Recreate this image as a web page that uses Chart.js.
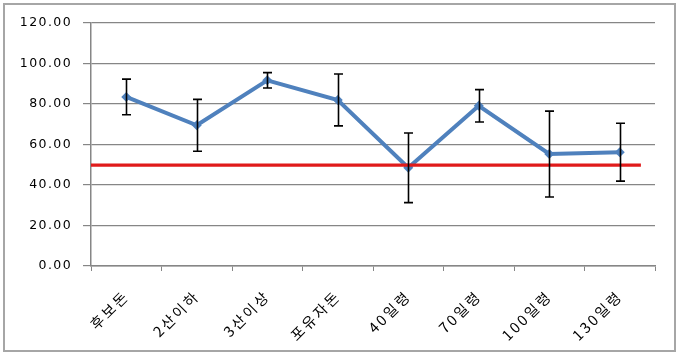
<!DOCTYPE html>
<html>
<head>
<meta charset="utf-8">
<script src="https://cdn.jsdelivr.net/npm/chart.js@4/dist/chart.umd.min.js"></script>
<style>
html,body{margin:0;padding:0;background:#fff;}
#wrap{width:680px;height:356px;position:relative;}
</style>
</head>
<body>
<div id="wrap"><canvas id="c" width="680" height="356"></canvas></div>
<script>
const categories = ['후보돈', '2산이하', '3산이상', '포유자돈', '40일령', '70일령', '100일령', '130일령'];
const meanValues = [83.5, 69.5, 91.7, 82.0, 48.5, 79.1, 55.3, 56.2];
const sdValues = [8.8, 12.8, 3.8, 12.8, 17.2, 8.0, 21.2, 14.3];
const referenceLevel = 49.8;
const referenceSpan = [-0.5, 7.3];
const yTickMin = 0, yTickMax = 120, yTickStep = 20;

const errorBars = {
  id: 'errorBars',
  afterDatasetsDraw(chart) {
    const ctx = chart.ctx, x = chart.scales.x, y = chart.scales.y;
    ctx.save();
    ctx.strokeStyle = '#000';
    ctx.lineWidth = 1.6;
    meanValues.forEach((m, i) => {
      const px = Math.round(x.getPixelForValue(i)) + 0.5;
      const top = y.getPixelForValue(m + sdValues[i]);
      const bot = y.getPixelForValue(m - sdValues[i]);
      ctx.beginPath();
      ctx.moveTo(px, top); ctx.lineTo(px, bot);
      ctx.moveTo(px - 4.5, top); ctx.lineTo(px + 4.5, top);
      ctx.moveTo(px - 4.5, bot); ctx.lineTo(px + 4.5, bot);
      ctx.stroke();
    });
    ctx.restore();
  }
};

// widen label spacing per axis
const spacing = {
  id: 'spacing',
  afterLayout(chart) {
    const cfg = {x: '2.5px', y: '1.4px'};
    Object.keys(cfg).forEach(id => {
      const s = chart.scales[id];
      if (!s || s._spacingPatched) return;
      const orig = s.drawLabels;
      s.drawLabels = function (area) {
        const ctx = this.ctx;
        ctx.save();
        ctx.letterSpacing = cfg[id];
        orig.call(this, area);
        ctx.restore();
      };
      s._spacingPatched = true;
    });
  }
};

const frame = {
  id: 'frame',
  afterDraw(chart) {
    const ctx = chart.ctx;
    ctx.save();
    ctx.strokeStyle = '#a6a6a6';
    ctx.lineWidth = 2;
    ctx.strokeRect(4, 4, 671, 347);
    ctx.restore();
  }
};

new Chart(document.getElementById('c'), {
  type: 'line',
  data: {
    labels: categories,
    datasets: [
      {
        data: referenceSpan.map(v => ({x: v, y: referenceLevel})),
        xAxisID: 'x2',
        borderColor: '#e01b1b',
        borderWidth: 3.2,
        pointRadius: 0,
        order: 0
      },
      {
        data: meanValues,
        borderColor: '#4f81bd',
        backgroundColor: '#4f81bd',
        borderWidth: 4,
        pointStyle: 'rectRot',
        pointRadius: 5,
        pointBorderWidth: 0,
        tension: 0,
        order: 1
      }
    ]
  },
  options: {
    responsive: false,
    animation: false,
    layout: {padding: {left: 0, top: 23, right: 25, bottom: 0}},
    plugins: {legend: {display: false}, tooltip: {enabled: false}},
    scales: {
      x: {
        type: 'category',
        offset: true,
        afterFit(s) { s.height = 90; },
        grid: {display: true, drawOnChartArea: false, drawTicks: true, tickLength: 5, offset: true, color: '#868686'},
        border: {color: '#868686', width: 1.5},
        ticks: {
          minRotation: 45, maxRotation: 45, autoSkip: false, padding: 16,
          color: '#000',
          font: {family: "'Noto Sans CJK KR'", size: 14.5}
        }
      },
      x2: {
        type: 'linear', display: false, min: -0.5, max: 7.5
      },
      y: {
        min: yTickMin, max: yTickMax,
        afterFit(s) { s.width = 91; },
        ticks: {
          stepSize: yTickStep, padding: 11, color: '#000',
          font: {family: "'DejaVu Sans'", size: 12.5},
          callback: v => Number(v).toFixed(2)
        },
        grid: {color: '#868686', lineWidth: 1.2, tickLength: 8},
        border: {color: '#868686', width: 1.5}
      }
    }
  },
  plugins: [errorBars, spacing, frame]
});
</script>
</body>
</html>
